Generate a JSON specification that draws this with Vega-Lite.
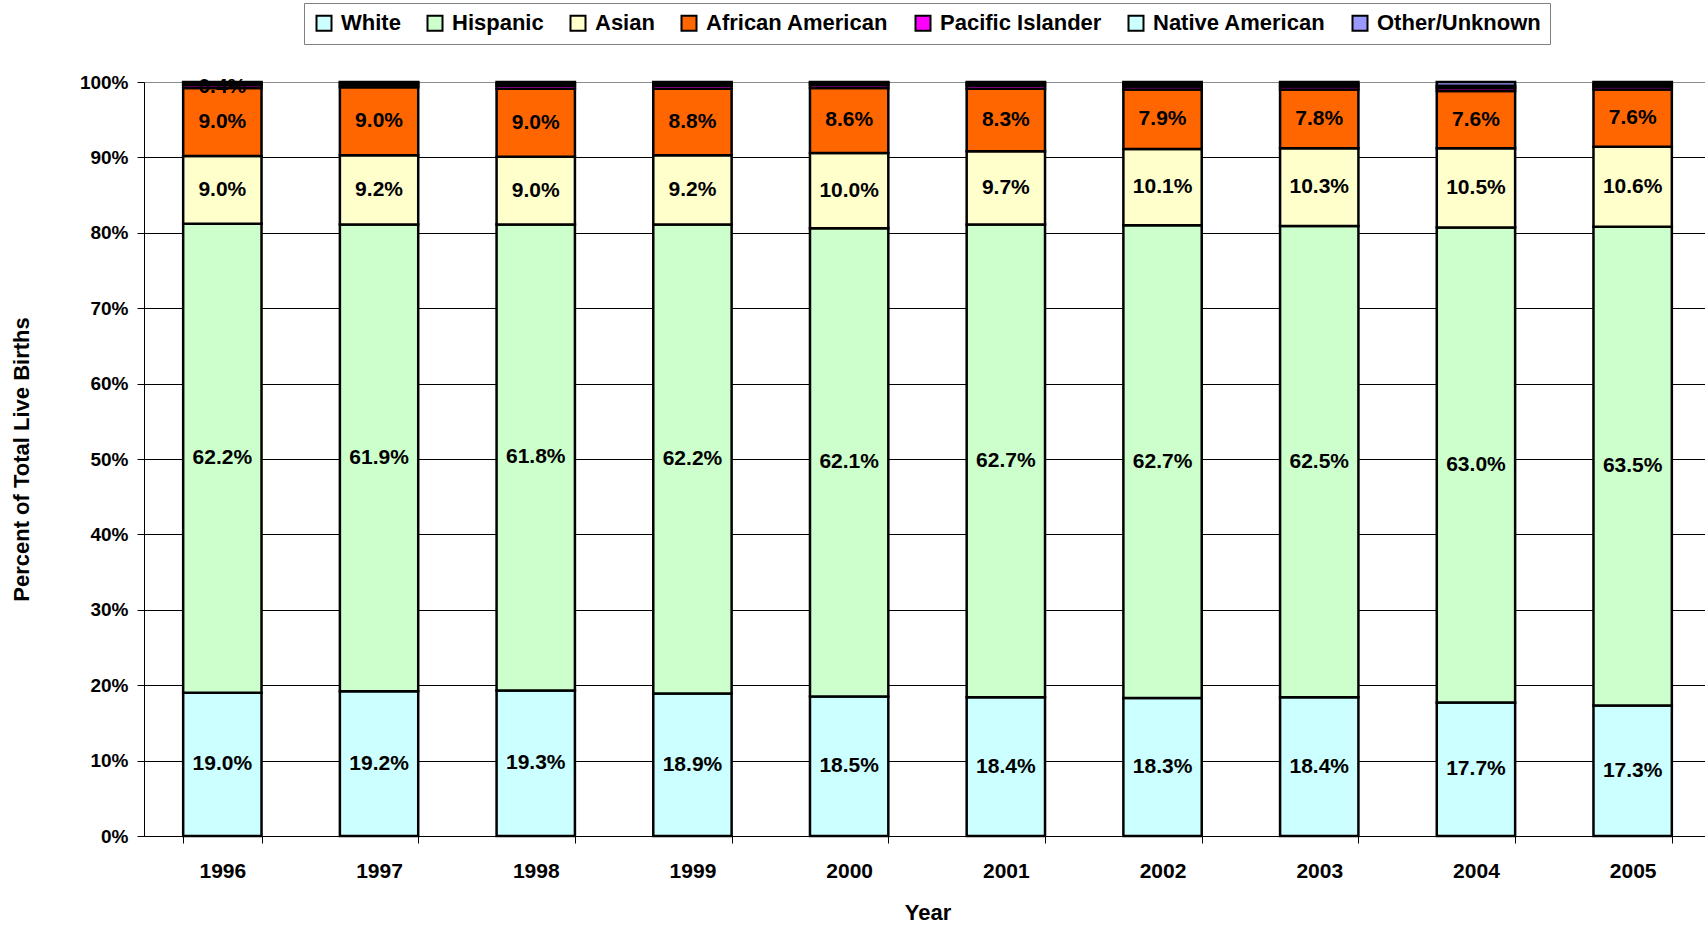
{
  "$schema": "https://vega.github.io/schema/vega-lite/v6.json",
  "width": 1567,
  "height": 754,
  "autosize": {"type": "none"},
  "padding": {"left": 144, "top": 82, "right": 0, "bottom": 92},
  "background": "white",
  "config": {
    "view": {"stroke": null},
    "font": "Liberation Sans",
    "axis": {"labelFont": "Liberation Sans", "titleFont": "Liberation Sans", "labelFontWeight": "bold", "titleFontWeight": "bold", "labelColor": "black", "titleColor": "black"},
    "legend": {"labelFont": "Liberation Sans", "labelFontWeight": "bold", "labelColor": "black", "strokeColor": "#808080", "padding": 9, "fillColor": "white"}
  },
  "data": {
    "values": [
      {"year": "1996", "race": "White", "k": 1, "value": 19.0, "label": "19.0%"},
      {"year": "1996", "race": "Hispanic", "k": 2, "value": 62.2, "label": "62.2%"},
      {"year": "1996", "race": "Asian", "k": 3, "value": 9.0, "label": "9.0%"},
      {"year": "1996", "race": "African American", "k": 4, "value": 9.0, "label": "9.0%"},
      {"year": "1996", "race": "Pacific Islander", "k": 5, "value": 0.4, "label": "0.4%"},
      {"year": "1996", "race": "Native American", "k": 6, "value": 0.3, "label": ""},
      {"year": "1996", "race": "Other/Unknown", "k": 7, "value": 0.1, "label": ""},
      {"year": "1997", "race": "White", "k": 1, "value": 19.2, "label": "19.2%"},
      {"year": "1997", "race": "Hispanic", "k": 2, "value": 61.9, "label": "61.9%"},
      {"year": "1997", "race": "Asian", "k": 3, "value": 9.2, "label": "9.2%"},
      {"year": "1997", "race": "African American", "k": 4, "value": 9.0, "label": "9.0%"},
      {"year": "1997", "race": "Pacific Islander", "k": 5, "value": 0.3, "label": ""},
      {"year": "1997", "race": "Native American", "k": 6, "value": 0.3, "label": ""},
      {"year": "1997", "race": "Other/Unknown", "k": 7, "value": 0.1, "label": ""},
      {"year": "1998", "race": "White", "k": 1, "value": 19.3, "label": "19.3%"},
      {"year": "1998", "race": "Hispanic", "k": 2, "value": 61.8, "label": "61.8%"},
      {"year": "1998", "race": "Asian", "k": 3, "value": 9.0, "label": "9.0%"},
      {"year": "1998", "race": "African American", "k": 4, "value": 9.0, "label": "9.0%"},
      {"year": "1998", "race": "Pacific Islander", "k": 5, "value": 0.4, "label": ""},
      {"year": "1998", "race": "Native American", "k": 6, "value": 0.3, "label": ""},
      {"year": "1998", "race": "Other/Unknown", "k": 7, "value": 0.2, "label": ""},
      {"year": "1999", "race": "White", "k": 1, "value": 18.9, "label": "18.9%"},
      {"year": "1999", "race": "Hispanic", "k": 2, "value": 62.2, "label": "62.2%"},
      {"year": "1999", "race": "Asian", "k": 3, "value": 9.2, "label": "9.2%"},
      {"year": "1999", "race": "African American", "k": 4, "value": 8.8, "label": "8.8%"},
      {"year": "1999", "race": "Pacific Islander", "k": 5, "value": 0.4, "label": ""},
      {"year": "1999", "race": "Native American", "k": 6, "value": 0.3, "label": ""},
      {"year": "1999", "race": "Other/Unknown", "k": 7, "value": 0.2, "label": ""},
      {"year": "2000", "race": "White", "k": 1, "value": 18.5, "label": "18.5%"},
      {"year": "2000", "race": "Hispanic", "k": 2, "value": 62.1, "label": "62.1%"},
      {"year": "2000", "race": "Asian", "k": 3, "value": 10.0, "label": "10.0%"},
      {"year": "2000", "race": "African American", "k": 4, "value": 8.6, "label": "8.6%"},
      {"year": "2000", "race": "Pacific Islander", "k": 5, "value": 0.4, "label": ""},
      {"year": "2000", "race": "Native American", "k": 6, "value": 0.3, "label": ""},
      {"year": "2000", "race": "Other/Unknown", "k": 7, "value": 0.1, "label": ""},
      {"year": "2001", "race": "White", "k": 1, "value": 18.4, "label": "18.4%"},
      {"year": "2001", "race": "Hispanic", "k": 2, "value": 62.7, "label": "62.7%"},
      {"year": "2001", "race": "Asian", "k": 3, "value": 9.7, "label": "9.7%"},
      {"year": "2001", "race": "African American", "k": 4, "value": 8.3, "label": "8.3%"},
      {"year": "2001", "race": "Pacific Islander", "k": 5, "value": 0.4, "label": ""},
      {"year": "2001", "race": "Native American", "k": 6, "value": 0.3, "label": ""},
      {"year": "2001", "race": "Other/Unknown", "k": 7, "value": 0.2, "label": ""},
      {"year": "2002", "race": "White", "k": 1, "value": 18.3, "label": "18.3%"},
      {"year": "2002", "race": "Hispanic", "k": 2, "value": 62.7, "label": "62.7%"},
      {"year": "2002", "race": "Asian", "k": 3, "value": 10.1, "label": "10.1%"},
      {"year": "2002", "race": "African American", "k": 4, "value": 7.9, "label": "7.9%"},
      {"year": "2002", "race": "Pacific Islander", "k": 5, "value": 0.4, "label": ""},
      {"year": "2002", "race": "Native American", "k": 6, "value": 0.3, "label": ""},
      {"year": "2002", "race": "Other/Unknown", "k": 7, "value": 0.3, "label": ""},
      {"year": "2003", "race": "White", "k": 1, "value": 18.4, "label": "18.4%"},
      {"year": "2003", "race": "Hispanic", "k": 2, "value": 62.5, "label": "62.5%"},
      {"year": "2003", "race": "Asian", "k": 3, "value": 10.3, "label": "10.3%"},
      {"year": "2003", "race": "African American", "k": 4, "value": 7.8, "label": "7.8%"},
      {"year": "2003", "race": "Pacific Islander", "k": 5, "value": 0.4, "label": ""},
      {"year": "2003", "race": "Native American", "k": 6, "value": 0.3, "label": ""},
      {"year": "2003", "race": "Other/Unknown", "k": 7, "value": 0.3, "label": ""},
      {"year": "2004", "race": "White", "k": 1, "value": 17.7, "label": "17.7%"},
      {"year": "2004", "race": "Hispanic", "k": 2, "value": 63.0, "label": "63.0%"},
      {"year": "2004", "race": "Asian", "k": 3, "value": 10.5, "label": "10.5%"},
      {"year": "2004", "race": "African American", "k": 4, "value": 7.6, "label": "7.6%"},
      {"year": "2004", "race": "Pacific Islander", "k": 5, "value": 0.4, "label": ""},
      {"year": "2004", "race": "Native American", "k": 6, "value": 0.3, "label": ""},
      {"year": "2004", "race": "Other/Unknown", "k": 7, "value": 0.5, "label": ""},
      {"year": "2005", "race": "White", "k": 1, "value": 17.3, "label": "17.3%"},
      {"year": "2005", "race": "Hispanic", "k": 2, "value": 63.5, "label": "63.5%"},
      {"year": "2005", "race": "Asian", "k": 3, "value": 10.6, "label": "10.6%"},
      {"year": "2005", "race": "African American", "k": 4, "value": 7.6, "label": "7.6%"},
      {"year": "2005", "race": "Pacific Islander", "k": 5, "value": 0.4, "label": ""},
      {"year": "2005", "race": "Native American", "k": 6, "value": 0.3, "label": ""},
      {"year": "2005", "race": "Other/Unknown", "k": 7, "value": 0.3, "label": ""}
    ]
  },
  "encoding": {
    "x": {
      "field": "year", "type": "ordinal",
      "scale": {"paddingInner": 0.5, "paddingOuter": 0.25},
      "axis": {
        "title": "Year", "titleFontSize": 22, "titlePadding": 21,
        "labelAngle": 0, "labelFontSize": 21, "labelPadding": 17,
        "tickBand": "extent", "tickSize": 7, "tickColor": "black", "tickWidth": 1,
        "domainColor": "black", "domainWidth": 1, "grid": false
      }
    },
    "y": {
      "field": "value", "type": "quantitative", "stack": "zero",
      "scale": {"domain": [0, 100], "nice": false},
      "axis": {
        "title": "Percent of Total Live Births", "titleFontSize": 22, "titlePadding": 46,
        "values": [0, 10, 20, 30, 40, 50, 60, 70, 80, 90, 100],
        "labelExpr": "datum.value + '%'", "labelFontSize": 19, "labelPadding": 9,
        "tickSize": 7, "tickColor": "black", "tickWidth": 1,
        "domainColor": "black", "domainWidth": 1,
        "grid": true, "gridWidth": 1,
        "gridColor": {"condition": {"test": "datum.value === 100", "value": "#8c8c8c"}, "value": "black"}
      }
    },
    "order": {"field": "k", "type": "quantitative"}
  },
  "layer": [
    {
      "mark": {"type": "bar", "stroke": "black", "strokeWidth": 2.5, "opacity": 1},
      "encoding": {
        "color": {
          "field": "race", "type": "nominal",
          "scale": {
            "domain": ["White", "Hispanic", "Asian", "African American", "Pacific Islander", "Native American", "Other/Unknown"],
            "range": ["#CCFFFF", "#CCFFCC", "#FFFFCC", "#FF6600", "#FF00FF", "#CCFFFF", "#9999FF"]
          },
          "legend": {
            "title": null, "orient": "none", "direction": "horizontal", "columns": 7,
            "legendX": 160, "legendY": -79,
            "symbolType": "square", "symbolSize": 225, "symbolStrokeColor": "black", "symbolStrokeWidth": 2, "symbolOpacity": 1,
            "labelFontSize": 22, "labelOffset": 6, "labelLimit": 0, "columnPadding": 22
          }
        }
      }
    },
    {
      "mark": {"type": "text", "fontSize": 21, "fontWeight": "bold", "font": "Liberation Sans", "color": "black", "baseline": "middle"},
      "encoding": {
        "y": {"field": "value", "type": "quantitative", "stack": "zero", "bandPosition": 0.5},
        "text": {"field": "label"}
      }
    }
  ]
}
